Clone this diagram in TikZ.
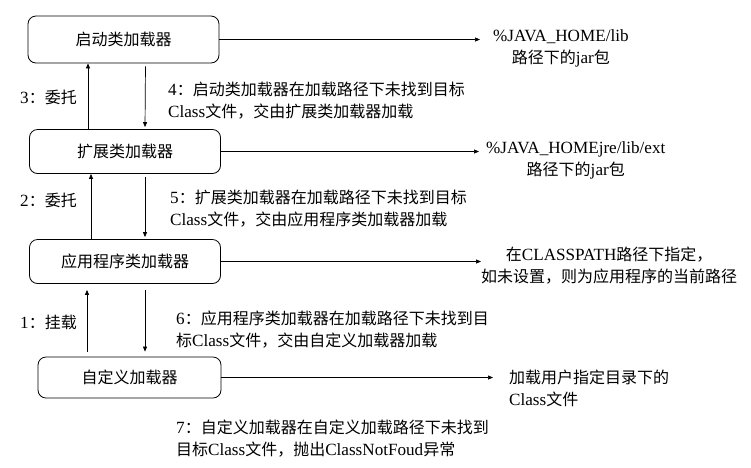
\documentclass[tikz,border=0pt]{standalone}
\usepackage{fontspec}
\setmainfont{Noto Sans CJK SC}
\newfontfamily\en[Scale=1.07]{Liberation Serif}
\usetikzlibrary{arrows.meta, positioning}

\begin{document}
\begin{tikzpicture}[x=1pt, y=-1pt, >={Triangle[length=5pt, width=4pt]},
    every node/.style={font=\fontsize{16}{22}\selectfont},
    loader/.style={rectangle, draw, rounded corners=8pt, line width=0.8pt,
                   minimum width=191pt, minimum height=44pt, inner sep=2pt},
    note/.style={align=left, inner sep=0pt, anchor=west},
    place/.style={align=center, inner sep=0pt, anchor=west},
    link/.style={->, line width=0.7pt}]
    \useasboundingbox (0,0) rectangle (751,467);

    \node[loader, minimum height=47pt] (boot) at (123.5,39.5) {启动类加载器};
    \node[loader] (ext) at (125,151.5) {扩展类加载器};
    \node[loader] (app) at (125,261.5) {应用程序类加载器};
    \node[loader, minimum width=183pt, minimum height=41pt] (user) at (129.5,377.5) {自定义加载器};

    \node[place, inner xsep=13pt] (boottxt) at (480,48) {{\en\%JAVA\_HOME/lib}\\路径下的{\en jar}包};
    \node[place, inner xsep=7pt] (exttxt) at (479,160) {{\en\%JAVA\_HOMEjre/lib/ext}\\路径下的{\en jar}包};
    \node[place] (apptxt) at (481,266) {在{\en CLASSPATH}路径下指定，\\如未设置，则为应用程序的当前路径};
    \node[note, inner xsep=16pt] (usertxt) at (493,388.5) {加载用户指定目录下的\\{\en Class}文件};

    \draw[link] (boot.east) -- (boot.east -| boottxt.west);
    \draw[link] (ext.east) -- (ext.east -| exttxt.west);
    \draw[link] (app.east) -- (app.east -| apptxt.west);
    \draw[link] (user.east) -- (user.east -| usertxt.west);

    \node[note] (del3) at (20,97) {{\en 3}：委托};
    \node[note] (del2) at (20,200) {{\en 2}：委托};
    \node[note] (hook1) at (20,322) {{\en 1}：挂载};

    \node[note] (step4) at (168,101) {{\en 4}：启动类加载器在加载路径下未找到目标\\{\en Class}文件，交由扩展类加载器加载};
    \node[note] (step5) at (170,209) {{\en 5}：扩展类加载器在加载路径下未找到目标\\{\en Class}文件，交由应用程序类加载器加载};
    \node[note] (step6) at (176,330) {{\en 6}：应用程序类加载器在加载路径下未找到目\\标{\en Class}文件，交由自定义加载器加载};
    \node[note] (step7) at (176,439) {{\en 7}：自定义加载器在自定义加载路径下未找到\\目标{\en Class}文件，抛出{\en ClassNotFoud}异常};

    \draw[link] ([xshift=-37pt]ext.north) -- ([xshift=-37pt]ext.north |- boot.south);
    \draw[link, shorten <=3pt, shorten >=2pt] ([xshift=22pt]boot.south) -- ([xshift=20pt]ext.north);
    \draw[link] ([xshift=-34pt]app.north) -- ([xshift=-34pt]app.north |- ext.south);
    \draw[link, shorten <=3pt, shorten >=2pt] ([xshift=20pt]ext.south) -- ([xshift=20pt]app.north);
    \draw[link, shorten <=5pt, shorten >=6pt] ([xshift=-42.5pt]user.north) -- ([xshift=-42.5pt]user.north |- app.south);
    \draw[link, shorten <=6pt, shorten >=5pt] ([xshift=20pt]app.south) -- ([xshift=15.5pt]user.north);
\end{tikzpicture}
\end{document}
